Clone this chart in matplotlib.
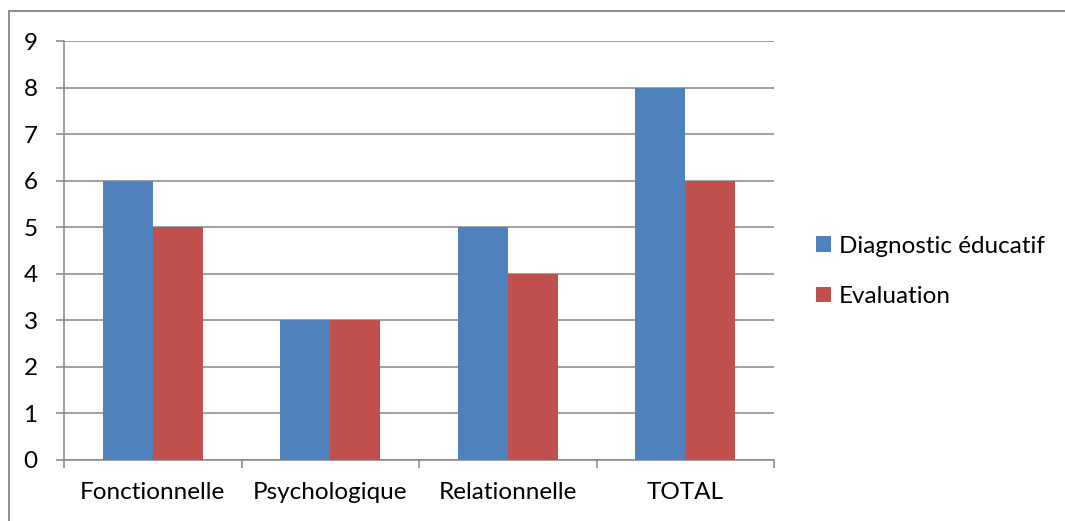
import numpy as np
import matplotlib.pyplot as plt
from matplotlib.patches import Rectangle
from matplotlib.ticker import FixedLocator

categories = ["Fonctionnelle", "Psychologique", "Relationnelle", "TOTAL"]
diagnostic = [6, 3, 5, 8]
evaluation = [5, 3, 4, 6]
series_names = ["Diagnostic éducatif", "Evaluation"]

plt.rcParams['font.family'] = ['Lato', 'DejaVu Sans']

W, H = 1065, 521
fig = plt.figure(figsize=(W / 100, H / 100), dpi=100)
ax = fig.add_axes([64 / W, 61 / H, 710 / W, 419 / H])

grey = '#868686'
x = np.arange(len(categories))
bw = 50 / 177.5
ax.bar(x - bw / 2, diagnostic, bw, color='#4F81BD', label=series_names[0], zorder=3)
ax.bar(x + bw / 2, evaluation, bw, color='#C0504D', label=series_names[1], zorder=3)

ax.set_xlim(-0.5, 3.5)
ax.set_ylim(0, 9)
ax.set_yticks(range(10))
ax.yaxis.grid(True, color=grey, linewidth=1.1, zorder=0)
ax.set_xticks(x)
ax.set_xticklabels(categories)
ax.xaxis.set_minor_locator(FixedLocator(np.arange(-0.5, 4, 1)))
ax.tick_params(axis='x', which='major', length=0, pad=16, labelsize=17.5)
ax.tick_params(axis='x', which='minor', length=6, width=1.1, color=grey)
ax.tick_params(axis='y', length=6, width=1.1, color=grey, pad=13, labelsize=17.5)

for s in ['top', 'right']:
    ax.spines[s].set_visible(False)
for s in ['left', 'bottom']:
    ax.spines[s].set_color(grey)
    ax.spines[s].set_linewidth(1.1)

ax.legend(loc='center left', bbox_to_anchor=(816 / 710 - 64 / 710, 0.45), frameon=False,
          fontsize=17.5, handlelength=0.6, handleheight=0.6, handletextpad=0.35,
          labelspacing=1.22, borderaxespad=0, borderpad=0)

fig.patches.append(Rectangle((9 / W, -0.1), 1.2, 1.1 - 11 / H, transform=fig.transFigure,
                             fill=False, edgecolor=grey, linewidth=1.3))

fig.savefig('out.png', dpi=100)
